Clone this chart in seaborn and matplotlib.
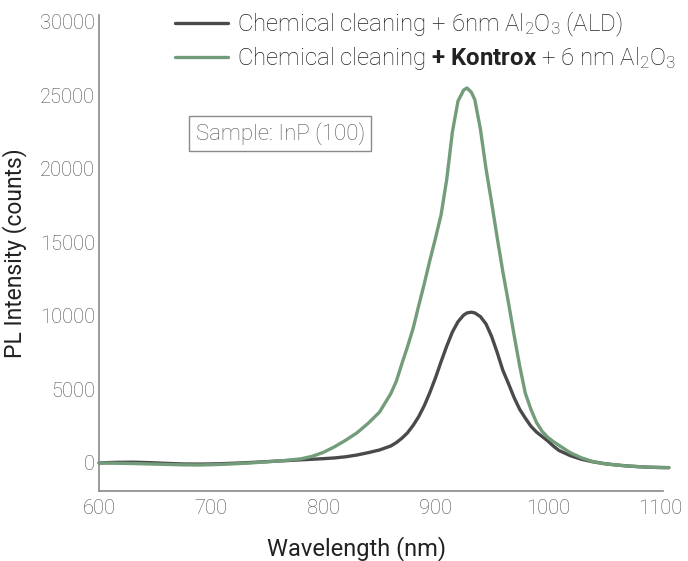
import numpy as np
import pandas as pd
import matplotlib
matplotlib.use("Agg")
import matplotlib.pyplot as plt
import seaborn as sns

wavelength = [600, 615, 630, 645, 660, 675, 690, 705, 720, 735, 750, 765, 780, 790,
              800, 810, 820, 830, 840, 850, 860, 865, 870, 875, 880, 885, 890, 895,
              900, 905, 910, 915, 920, 925, 928, 932, 935, 940, 945, 950, 955, 960,
              965, 970, 975, 980, 985, 990, 995, 1000, 1005, 1010, 1020, 1030, 1040, 1050,
              1060, 1070, 1080, 1090, 1100, 1108]
ald_only = [0, 40, 50, 20, -30, -70, -80, -60, -20, 30, 90, 150, 210, 250,
            290, 340, 420, 540, 700, 880, 1150, 1380, 1680, 2050, 2550, 3150, 3900, 4800,
            5800, 6900, 7950, 8900, 9600, 10050, 10200, 10250, 10200, 9950, 9450, 8600, 7500, 6300,
            5400, 4450, 3650, 3050, 2500, 2100, 1800, 1500, 1150, 850, 500, 250, 80, -40,
            -130, -200, -250, -290, -310, -320]
kontrox = [0, -20, -40, -70, -100, -130, -140, -110, -60, 0, 80, 160, 280, 450,
           720, 1100, 1550, 2050, 2700, 3450, 4700, 5550, 6750, 7900, 9150, 10700, 12200, 13800,
           15300, 16900, 19300, 22500, 24600, 25350, 25500, 25200, 24700, 22700, 20000, 17700, 15300, 13000,
           10900, 8700, 6600, 4750, 3650, 2750, 2150, 1750, 1450, 1200, 700, 350, 100, -50,
           -130, -200, -250, -290, -310, -320]

label_ald = r"Chemical cleaning + 6nm Al$_2$O$_3$ (ALD)"
label_kon = r"Chemical cleaning $\mathbf{+}$ $\mathbf{Kontrox}$ + 6 nm Al$_2$O$_3$"
series_labels = [label_ald, label_kon]
y_ticks = [0, 5000, 10000, 15000, 20000, 25000, 30000]
x_ticks = [600, 700, 800, 900, 1000, 1100]

sns.set_theme(style="white")
plt.rcParams["font.family"] = ["Roboto", "DejaVu Sans"]
plt.rcParams["font.weight"] = "light"
plt.rcParams["mathtext.fontset"] = "custom"
plt.rcParams["mathtext.rm"] = "Roboto:light"
plt.rcParams["mathtext.bf"] = "Roboto:bold"
plt.rcParams["mathtext.it"] = "Roboto:italic:light"

df = pd.DataFrame({
    "wl": wavelength * 2,
    "I": ald_only + kontrox,
    "series": [label_ald] * len(wavelength) + [label_kon] * len(wavelength),
})

fig = plt.figure(figsize=(6.88, 5.61), dpi=100)
ax = fig.add_axes([0.144, 0.125, 0.820, 0.848])
palette = {label_ald: "#4a4a4a", label_kon: "#739c7a"}
sns.lineplot(data=df, x="wl", y="I", hue="series", hue_order=series_labels,
             palette=palette, estimator=None, sort=False, linewidth=2.4, ax=ax)
for ln in ax.get_lines():
    ln.set_clip_on(False)
    ln.set_solid_capstyle("round")
    ln.set_solid_joinstyle("round")

ax.set_xlim(600, 1103)
ax.set_ylim(-1900, 30450)
ax.set_xticks(x_ticks)
ax.set_yticks(y_ticks)
ax.tick_params(axis="both", length=0, labelsize=14.5, labelcolor="#4d4d4d")
ax.tick_params(axis="x", pad=6)
ax.tick_params(axis="y", pad=3)
for s in ["top", "right"]:
    ax.spines[s].set_visible(False)
for s in ["left", "bottom"]:
    ax.spines[s].set_color("#8a8a8a")
    ax.spines[s].set_linewidth(1.2)

ax.set_xlabel("Wavelength (nm)", fontsize=17, color="#222222", labelpad=12)
ax.xaxis.set_label_coords(0.457, -0.095)
ax.set_ylabel("PL Intensity (counts)", fontsize=16.5, color="#222222")
ax.yaxis.set_label_coords(-0.128, 0.5)

leg = ax.legend(loc="upper left", bbox_to_anchor=(0.096, 1.056), frameon=False,
                fontsize=17.3, handlelength=2.2, handletextpad=0.4, labelspacing=0.25)
for t in leg.get_texts():
    t.set_color("#222222")

ax.text(0.321, 0.751, "Sample: InP (100)", transform=ax.transAxes, fontsize=16,
        color="#555555", ha="center", va="center",
        bbox=dict(boxstyle="square,pad=0.28", fc="white", ec="#8a8a8a", lw=1.0))

fig.savefig("out.png", dpi=100)
